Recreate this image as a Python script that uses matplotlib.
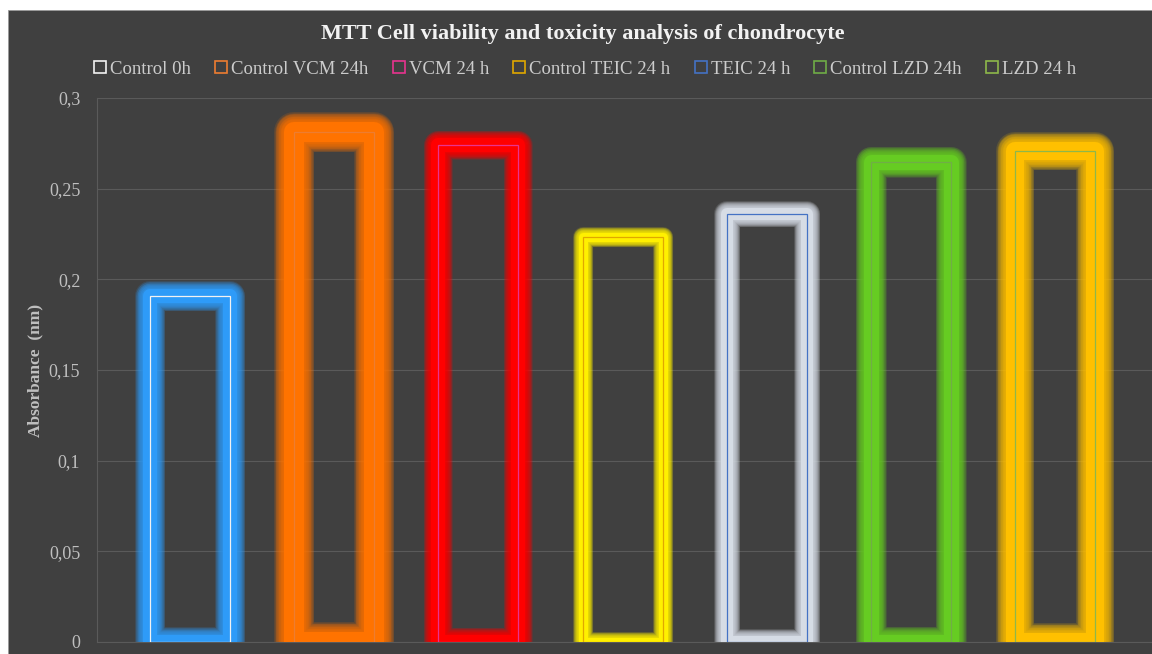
import numpy as np
import matplotlib
matplotlib.use("Agg")
import matplotlib.pyplot as plt
from matplotlib.patches import Rectangle
from matplotlib.ticker import FuncFormatter

# ---- data ----
series = ["Control 0h", "Control VCM 24h", "VCM 24 h", "Control TEIC 24 h",
          "TEIC 24 h", "Control LZD 24h", "LZD 24 h"]
values = [0.191, 0.281, 0.274, 0.2235, 0.236, 0.2645, 0.271]
yticks = [0, 0.05, 0.1, 0.15, 0.2, 0.25, 0.3]

# ---- styles ----
outline_colors = ["#F2F2F2", "#ED7D31", "#E8338F", "#E0A800", "#4472C4", "#70AD47", "#8DB84A"]
glow_colors = ["#2E9BF8", "#FF7300", "#FF0000", "#FFF000", "#D6DCE5", "#66CC22", "#FFC000"]
glow_half = [7, 10, 7, 4.5, 6, 7.5, 9]     # px half width of solid glow core
glow_soft = [8, 10, 7.5, 5.5, 7, 8, 10]    # px fade width

plt.rcParams['font.family'] = ['Liberation Serif', 'DejaVu Serif']

W, H, DPI = 1152, 654, 100
fig = plt.figure(figsize=(W / DPI, H / DPI), dpi=DPI, facecolor="white")
bg = "#404040"
fig.patches.append(Rectangle((8 / W, 0), 1 - 8 / W, (H - 10) / H, transform=fig.transFigure,
                             facecolor=bg, edgecolor="#9A9A9A", linewidth=0.6, zorder=-10))

ax_left, ax_right = 97 / W, 1.0
ax_bottom, ax_top = (H - 642) / H, (H - 98) / H
ax = fig.add_axes([ax_left, ax_bottom, ax_right - ax_left, ax_top - ax_bottom])
ax.set_facecolor(bg)
ax.set_zorder(1)

x = np.arange(len(series))
bw = 0.555
ax.set_xlim(-0.645, 6.67)
ax.set_ylim(0, 0.3)

px = 72.0 / DPI
n = 14
for i, (v, oc, gc, gh, gs) in enumerate(zip(values, outline_colors, glow_colors, glow_half, glow_soft)):
    for k in range(n, 0, -1):
        w = 2 * (gh + gs * k / n)
        bars = ax.bar(x[i], v, width=bw, facecolor="none", edgecolor=gc,
                      linewidth=w * px, alpha=0.15, zorder=2)
        for b in bars:
            b.set_joinstyle("round")
    bars = ax.bar(x[i], v, width=bw, facecolor="none", edgecolor=gc,
                  linewidth=2 * gh * px, zorder=3)
    for b in bars:
        b.set_joinstyle("round")
    ax.bar(x[i], v, width=bw, facecolor="none", edgecolor=oc, linewidth=0.9, zorder=4)

ax.set_yticks(yticks)
ax.yaxis.set_major_formatter(FuncFormatter(lambda v, p: ("%g" % v).replace(".", ",")))
ax.set_xticks([])
ax.grid(axis="y", color="#5A5A5A", linewidth=0.8, zorder=0)
ax.set_axisbelow(True)
for s in ["top", "right"]:
    ax.spines[s].set_visible(False)
ax.spines["left"].set_color("#5A5A5A")
ax.spines["bottom"].set_color("#5A5A5A")
ax.tick_params(axis="y", length=0, pad=12, labelsize=13, labelcolor="#BFBFBF")

ax.set_ylabel("Absorbance  (nm)", fontsize=12.5, fontweight="bold", color="#BFBFBF")
ax.yaxis.set_label_coords((35 - 97) / (W - 97), 0.5)
ax.yaxis.label.set_va("center")

fig.text(583 / W, (H - 34) / H, "MTT Cell viability and toxicity analysis of chondrocyte",
         ha="center", va="center", fontsize=16, fontweight="bold", color="#F2F2F2")

handles = [Rectangle((0, 0), 1, 1, facecolor="none", edgecolor=c, linewidth=1.2) for c in outline_colors]
leg = fig.legend(handles, series, loc="center", bbox_to_anchor=(585 / W, (H - 69) / H), ncol=7,
                 frameon=False, fontsize=13.5, handlelength=0.65, handleheight=0.65,
                 handletextpad=0.2, columnspacing=1.3, labelcolor="#CCCCCC")

fig.savefig("out.png", dpi=DPI, facecolor="white")
